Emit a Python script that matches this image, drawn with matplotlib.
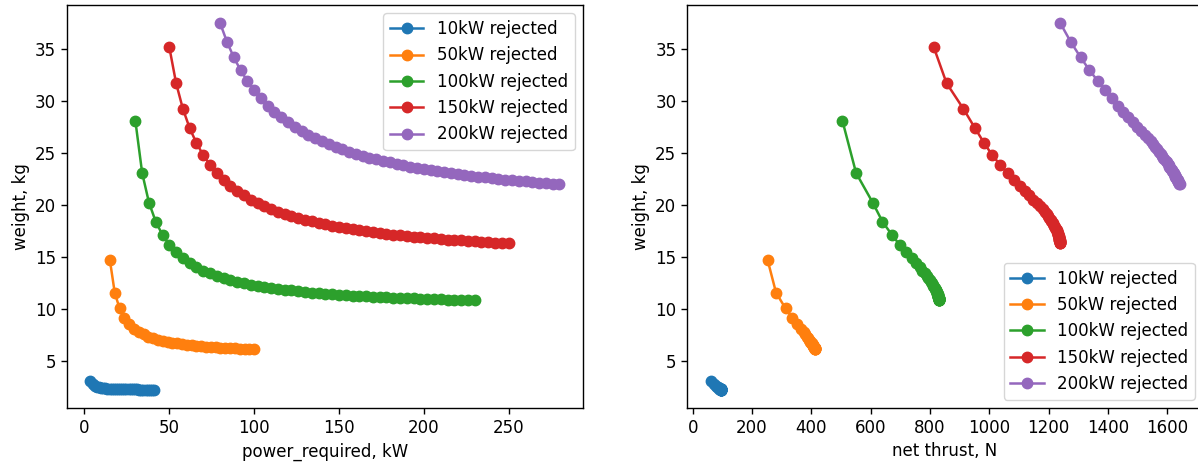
#-----------------------------------------------------------------------
# Masse du radiateur en fonction de la puissance et de la poussée nette
#-----------------------------------------------------------------------

import matplotlib
matplotlib.use("Agg")
import matplotlib.pyplot as plt

# Données

labels = ["10kW rejected", "50kW rejected", "100kW rejected",
          "150kW rejected", "200kW rejected"]

# 10 kW

power_10 = [3.5, 4.75, 6.0, 7.25, 8.5, 9.75, 11.0, 12.25, 13.5, 14.75,
            16.0, 17.25, 18.5, 19.75, 21.0, 22.25, 23.5, 24.75, 26.0, 27.25,
            28.5, 29.75, 31.0, 32.25, 33.5, 34.75, 36.0, 37.25, 38.5, 39.75,
            41.0]
weight_10 = [3.08, 2.72, 2.57, 2.48, 2.42, 2.38, 2.35, 2.33, 2.31, 2.29,
             2.28, 2.27, 2.26, 2.25, 2.25, 2.24, 2.24, 2.23, 2.23, 2.23,
             2.22, 2.22, 2.22, 2.21, 2.21, 2.21, 2.21, 2.20, 2.20, 2.20,
             2.20]
thrust_10 = [60, 72, 78, 82, 85, 87, 88, 89, 90, 91,
             92, 92, 93, 94, 94, 95, 95, 95, 96, 96,
             96, 96, 96, 97, 97, 97, 97, 97, 97, 97,
             97]

# 50 kW

power_50 = [15.0, 17.83, 20.67, 23.5, 26.33, 29.17, 32.0, 34.83, 37.67, 40.5,
            43.33, 46.17, 49.0, 51.83, 54.67, 57.5, 60.33, 63.17, 66.0, 68.83,
            71.67, 74.5, 77.33, 80.17, 83.0, 85.83, 88.67, 91.5, 94.33, 97.17,
            100.0]
weight_50 = [14.65, 11.55, 10.03, 9.12, 8.52, 8.09, 7.77, 7.52, 7.32, 7.16,
             7.03, 6.91, 6.81, 6.73, 6.66, 6.59, 6.53, 6.48, 6.43, 6.39,
             6.35, 6.32, 6.28, 6.26, 6.23, 6.20, 6.18, 6.16, 6.14, 6.12,
             6.10]
thrust_50 = [253, 281, 313, 335, 353, 366, 374, 380, 385, 388,
             391, 394, 397, 399, 401, 403, 404, 406, 407, 407,
             408, 409, 410, 410, 411, 412, 412, 413, 413, 414,
             414]

# 100 kW

power_100 = [30, 34, 38, 42, 46, 50, 54, 58, 62, 66, 70, 74, 78, 82, 86,
             90, 94, 98, 102, 106, 110, 114, 118, 122, 126, 130, 134, 138,
             142, 146, 150, 154, 158, 162, 166, 170, 174, 178, 182, 186,
             190, 194, 198, 202, 206, 210, 214, 218, 222, 226, 230]
weight_100 = [28.10, 23.08, 20.23, 18.39, 17.11, 16.16, 15.43, 14.86, 14.39,
              14.00, 13.68, 13.40, 13.16, 12.95, 12.77, 12.60, 12.46, 12.33,
              12.21, 12.10, 12.00, 11.91, 11.83, 11.76, 11.69, 11.62, 11.56,
              11.50, 11.45, 11.40, 11.36, 11.31, 11.27, 11.23, 11.20, 11.16,
              11.13, 11.10, 11.07, 11.04, 11.01, 10.99, 10.96, 10.94, 10.92,
              10.89, 10.87, 10.85, 10.83, 10.82, 10.80]
thrust_100 = [505, 551, 607, 640, 672, 698, 720, 738, 753, 765, 774, 782,
              789, 795, 799, 803, 806, 809, 811, 814, 816, 818, 819, 820,
              822, 823, 824, 825, 825, 826, 826, 827, 827, 827, 828, 828,
              828, 828, 829, 829, 829, 829, 829, 829, 829, 830, 830, 830,
              830, 830, 830]

# 150 kW

power_150 = [50, 54, 58, 62, 66, 70, 74, 78, 82, 86, 90, 94, 98, 102, 106,
             110, 114, 118, 122, 126, 130, 134, 138, 142, 146, 150, 154,
             158, 162, 166, 170, 174, 178, 182, 186, 190, 194, 198, 202,
             206, 210, 214, 218, 222, 226, 230, 234, 238, 242, 246, 250]
weight_150 = [35.20, 31.74, 29.26, 27.40, 25.96, 24.81, 23.86, 23.07, 22.41,
              21.84, 21.34, 20.91, 20.52, 20.19, 19.88, 19.61, 19.36, 19.14,
              18.93, 18.74, 18.57, 18.41, 18.26, 18.12, 17.99, 17.88, 17.76,
              17.66, 17.56, 17.47, 17.38, 17.30, 17.22, 17.15, 17.08, 17.01,
              16.95, 16.89, 16.83, 16.77, 16.72, 16.67, 16.62, 16.58, 16.53,
              16.49, 16.45, 16.41, 16.37, 16.34, 16.30]
thrust_150 = [813, 856, 913, 952, 983, 1010, 1037, 1062, 1083, 1103, 1120,
              1135, 1149, 1161, 1172, 1180, 1187, 1194, 1199, 1203, 1207,
              1210, 1214, 1216, 1219, 1221, 1223, 1225, 1227, 1228, 1230,
              1231, 1231, 1232, 1233, 1234, 1234, 1235, 1235, 1236, 1236,
              1237, 1237, 1238, 1238, 1238, 1239, 1239, 1239, 1240, 1240]

# 200 kW

power_200 = [80, 84, 88, 92, 96, 100, 104, 108, 112, 116, 120, 124, 128,
             132, 136, 140, 144, 148, 152, 156, 160, 164, 168, 172, 176,
             180, 184, 188, 192, 196, 200, 204, 208, 212, 216, 220, 224,
             228, 232, 236, 240, 244, 248, 252, 256, 260, 264, 268, 272,
             276, 280]
weight_200 = [37.50, 35.71, 34.23, 32.99, 31.95, 31.05, 30.26, 29.58, 28.97,
              28.43, 27.95, 27.51, 27.12, 26.76, 26.43, 26.13, 25.85, 25.60,
              25.36, 25.14, 24.94, 24.74, 24.56, 24.40, 24.24, 24.09, 23.95,
              23.82, 23.69, 23.57, 23.46, 23.35, 23.25, 23.15, 23.06, 22.97,
              22.89, 22.80, 22.73, 22.65, 22.58, 22.51, 22.45, 22.38, 22.32,
              22.26, 22.21, 22.15, 22.10, 22.05, 22.00]
thrust_200 = [1240, 1275, 1308, 1338, 1366, 1392, 1414, 1433, 1451, 1468,
              1484, 1499, 1513, 1525, 1535, 1545, 1553, 1560, 1566, 1572,
              1578, 1582, 1587, 1591, 1595, 1599, 1602, 1605, 1608, 1610,
              1613, 1615, 1618, 1620, 1622, 1624, 1625, 1627, 1628, 1630,
              1631, 1632, 1634, 1635, 1636, 1637, 1638, 1639, 1640, 1641,
              1642]

powers = [power_10, power_50, power_100, power_150, power_200]
weights = [weight_10, weight_50, weight_100, weight_150, weight_200]
thrusts = [thrust_10, thrust_50, thrust_100, thrust_150, thrust_200]

#-----------------------------------------------------------------------

# Style : tout est environ 1.2 fois plus gros que le défaut

plt.rcParams["font.size"] = 12
plt.rcParams["lines.markersize"] = 7.5
plt.rcParams["lines.linewidth"] = 1.8
plt.rcParams["axes.linewidth"] = 1.0
plt.rcParams["xtick.major.size"] = 4.2
plt.rcParams["ytick.major.size"] = 4.2
plt.rcParams["xtick.major.width"] = 1.0
plt.rcParams["ytick.major.width"] = 1.0

# Figure et axes (le second déborde un peu à droite, comme l'original)

fig = plt.figure(figsize=(11.98, 4.63), dpi=100)
ax1 = fig.add_axes([0.0559, 0.1188, 0.4307, 0.8704])
ax2 = fig.add_axes([0.5735, 0.1188, 0.4307, 0.8704])

# Poids en fonction de la puissance requise

for p, w, lab in zip(powers, weights, labels):
    ax1.plot(p, w, "o-", label=lab)

ax1.set_xlabel("power_required, kW")
ax1.set_ylabel("weight, kg")
ax1.legend(loc="upper right")

# Poids en fonction de la poussée nette

for t, w, lab in zip(thrusts, weights, labels):
    ax2.plot(t, w, "o-", label=lab)

ax2.set_xlabel("net thrust, N")
ax2.set_ylabel("weight, kg")
ax2.legend(loc="lower right")

fig.savefig("out.png", dpi=100)
